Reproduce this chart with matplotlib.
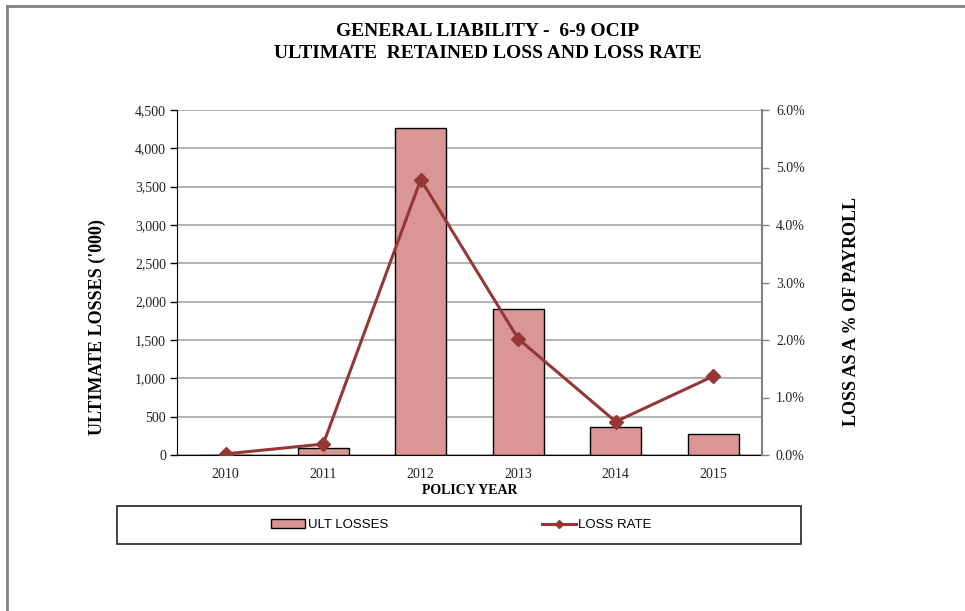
import matplotlib.pyplot as plt
from matplotlib.patches import Rectangle
from matplotlib.lines import Line2D
from matplotlib.ticker import FuncFormatter, MultipleLocator
import numpy as np

# data
years = ['2010', '2011', '2012', '2013', '2014', '2015']
ult_losses = [5, 85, 4270, 1900, 370, 275]          # '000
loss_rate = [0.02, 0.19, 4.79, 2.02, 0.58, 1.37]     # % of payroll

BAR_COL = '#D99694'
LINE_COL = '#953735'
serif = 'Liberation Serif'
sans = 'Liberation Sans'

W, H = 965, 611
fig = plt.figure(figsize=(W / 100, H / 100), dpi=100)

# plot area in pixels: x 177..762, y 110..455
ax = fig.add_axes([177 / W, 1 - 455 / H, 585 / W, 345 / H])
x = np.arange(len(years))
ax.bar(x, ult_losses, width=0.52, color=BAR_COL, edgecolor='black', linewidth=1, zorder=2)
ax.set_xlim(-0.5, len(years) - 0.5)
ax.set_ylim(0, 4500)
ax.yaxis.set_major_locator(MultipleLocator(500))
ax.yaxis.set_major_formatter(FuncFormatter(lambda v, p: f'{v:,.0f}'))
ax.grid(axis='y', color='#A6A6A6', linewidth=1.2, zorder=0)
ax.set_xticks(x)
ax.set_xticklabels(years)
ax.tick_params(axis='x', length=0, pad=9)
ax.tick_params(axis='y', length=5, width=1, color='black', pad=3)
for lab in ax.get_xticklabels() + ax.get_yticklabels():
    lab.set_fontfamily(serif)
    lab.set_fontsize(10)
    lab.set_color('#222222')
ax.spines['left'].set_color('black')
ax.spines['bottom'].set_color('black')
ax.spines['top'].set_visible(False)
ax.spines['right'].set_visible(False)

ax2 = ax.twinx()
ax2.plot(x, loss_rate, color=LINE_COL, linewidth=2.2, marker='D', markersize=7, zorder=3)
ax2.set_ylim(0, 6)
ax2.yaxis.set_major_locator(MultipleLocator(1))
ax2.yaxis.set_major_formatter(FuncFormatter(lambda v, p: f'{v:.1f}%'))
ax2.tick_params(axis='y', length=5, width=1, color='#808080', pad=5)
for lab in ax2.get_yticklabels():
    lab.set_fontfamily(serif)
    lab.set_fontsize(10)
    lab.set_color('#222222')
ax2.spines['right'].set_color('#808080')
ax2.spines['right'].set_linewidth(1.5)
for s in ['left', 'top', 'bottom']:
    ax2.spines[s].set_visible(False)

# titles and axis labels
fig.text(488 / W, 1 - 31 / H, 'GENERAL LIABILITY -  6-9 OCIP', ha='center', va='center',
         fontfamily=serif, fontweight='bold', fontsize=14)
fig.text(488 / W, 1 - 54 / H, 'ULTIMATE  RETAINED LOSS AND LOSS RATE', ha='center', va='center',
         fontfamily=serif, fontweight='bold', fontsize=14)
fig.text(97 / W, 1 - 327 / H, "ULTIMATE LOSSES ('000)", rotation=90, ha='center', va='center',
         fontfamily=serif, fontweight='bold', fontsize=13)
fig.text(851 / W, 1 - 311 / H, 'LOSS AS A % OF PAYROLL', rotation=90, ha='center', va='center',
         fontfamily=serif, fontweight='bold', fontsize=13)
fig.text(470 / W, 1 - 490 / H, 'POLICY YEAR', ha='center', va='center',
         fontfamily=serif, fontweight='bold', fontsize=10)

# outer chart frame (only top and left edges visible)
fig.add_artist(Line2D([7 / W, 1], [1 - 6 / H, 1 - 6 / H], color='#808080', linewidth=2,
                      transform=fig.transFigure))
fig.add_artist(Line2D([7 / W, 7 / W], [0, 1 - 6 / H], color='#808080', linewidth=2,
                      transform=fig.transFigure))

# legend box
fig.add_artist(Rectangle((117 / W, 1 - 544 / H), 684 / W, 38 / H, transform=fig.transFigure,
                         facecolor='none', edgecolor='#222222', linewidth=1.2))
handles = [Rectangle((0, 0), 1, 1, facecolor=BAR_COL, edgecolor='black', linewidth=1),
           Line2D([], [], color=LINE_COL, linewidth=2.2, marker='D', markersize=4)]
fig.legend(handles, ['ULT LOSSES', 'LOSS RATE'], loc='center',
           bbox_to_anchor=(461.5 / W, 1 - 525 / H), ncol=2, frameon=False,
           prop={'family': sans, 'size': 9.5}, handlelength=2.6, handleheight=0.6,
           handletextpad=0.2, columnspacing=11.6)

fig.savefig('out.png', dpi=100)
